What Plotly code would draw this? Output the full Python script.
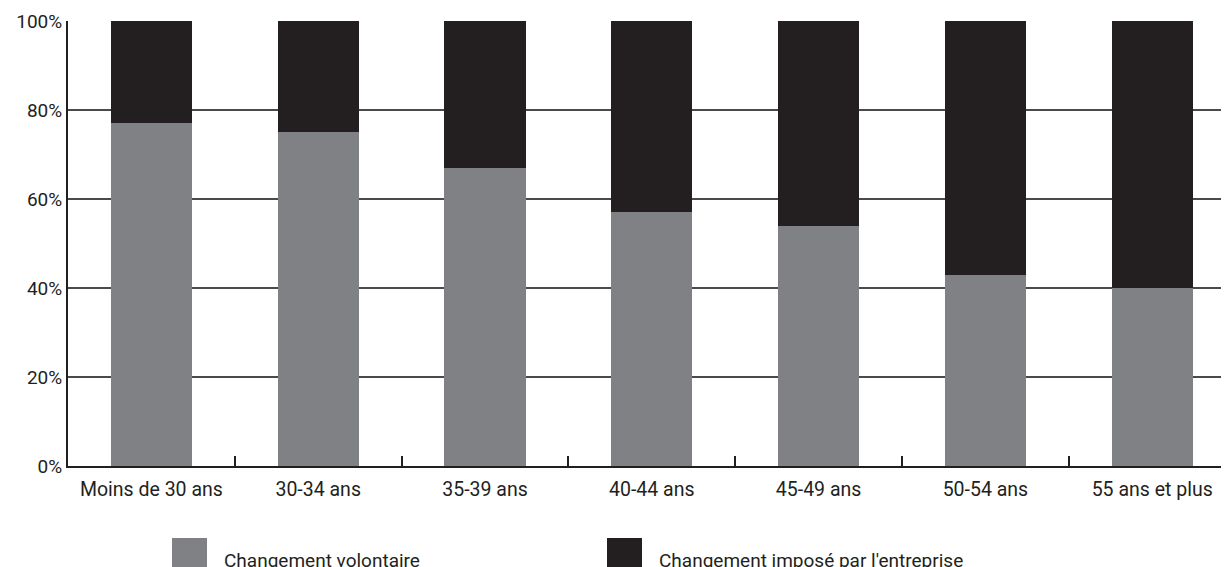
import plotly.graph_objects as go

categories = ["Moins de 30 ans", "30-34 ans", "35-39 ans", "40-44 ans", "45-49 ans", "50-54 ans", "55 ans et plus"]
volontaire = [77, 75, 67, 57, 54, 43, 40]
impose = [100 - v for v in volontaire]
series_names = ["Changement volontaire", "Changement imposé par l'entreprise"]
series_colors = ["#808184", "#231f20"]
y_ticks = [0, 20, 40, 60, 80, 100]
y_tick_labels = ["0%", "20%", "40%", "60%", "80%", "100%"]

FONT = "Roboto, 'Noto Sans', sans-serif"
INK = "#231f20"

fig = go.Figure()
for name, vals, col in zip(series_names, [volontaire, impose], series_colors):
    fig.add_trace(go.Bar(x=categories, y=vals, name=name, marker=dict(color=col, line=dict(width=0)),
                         width=0.486, showlegend=False))

# the page places the figure 8px from the top-left corner
OFF = 8
W, H = 1229, 567
L, R, T = 68 - OFF, OFF, 21 - OFF
ph = 445
B = H - T - ph
pw = W - L - R

def px(x):
    return (x - 68) / pw

def py(y):
    return (466 - y) / ph

fig.update_layout(
    width=W, height=H,
    barmode="stack",
    margin=dict(l=L, r=R, t=T, b=B, autoexpand=False),
    paper_bgcolor="white", plot_bgcolor="white",
    font=dict(family=FONT, size=19, color=INK),
    xaxis=dict(
        type="category", range=[-0.5, -0.5 + pw / 166.8],
        showline=True, linecolor=INK, linewidth=2,
        ticks="inside", tickson="boundaries", ticklen=10, tickwidth=2, tickcolor=INK,
        showgrid=False, ticklabelstandoff=5,
        tickfont=dict(family=FONT, size=19.5, color=INK),
    ),
    yaxis=dict(
        range=[0, 100], tickvals=y_ticks, ticktext=y_tick_labels,
        showline=True, linecolor=INK, linewidth=2,
        showgrid=True, gridcolor="#4a4a4a", gridwidth=2,
        ticks="", ticklabelstandoff=0, zeroline=False,
        tickfont=dict(family=FONT, size=19, color=INK),
    ),
)

legend_items = [
    (series_names[0], series_colors[0], 172, 207, 222),
    (series_names[1], series_colors[1], 607, 642, 657),
]
for name, col, sx0, sx1, tx in legend_items:
    fig.add_shape(type="rect", xref="paper", yref="paper",
                  x0=px(sx0), x1=px(sx1), y0=py(538), y1=py(573),
                  fillcolor=col, line=dict(width=0))
    fig.add_annotation(xref="paper", yref="paper", x=px(tx), y=py(560),
                       text=name, showarrow=False, xanchor="left", yanchor="middle",
                       font=dict(family=FONT, size=19, color=INK))

fig.write_html("out.html")
